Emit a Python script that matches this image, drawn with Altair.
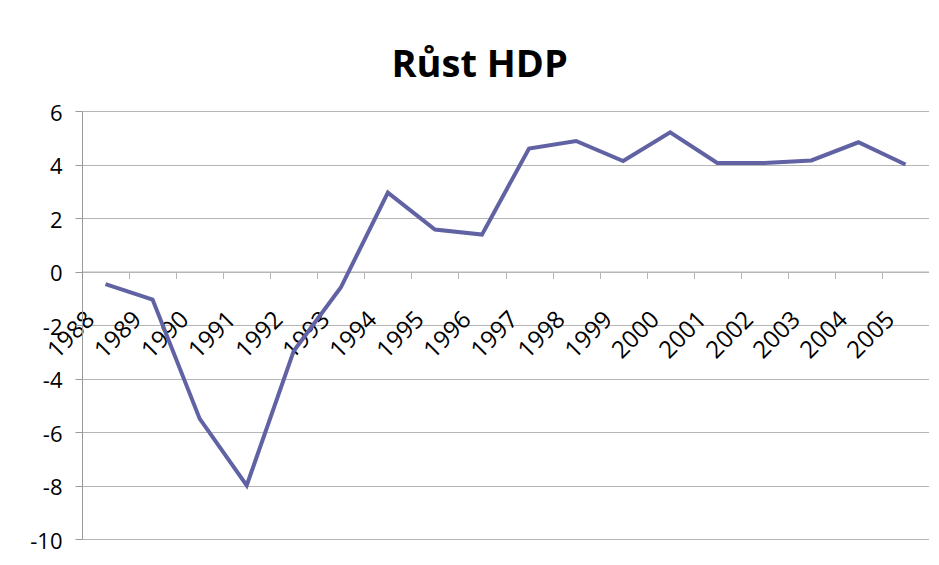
import altair as alt
import pandas as pd

years = ["1988", "1989", "1990", "1991", "1992", "1993", "1994", "1995", "1996",
         "1997", "1998", "1999", "2000", "2001", "2002", "2003", "2004", "2005"]
growth = [-0.47, -1.05, -5.5, -8.0, -2.97, -0.6, 2.95, 1.57, 1.38,
          4.6, 4.88, 4.13, 5.2, 4.06, 4.06, 4.15, 4.83, 4.0]
y_ticks = [-10, -8, -6, -4, -2, 0, 2, 4, 6]

df = pd.DataFrame({"rok": years, "hdp": growth})

W, H = 847, 428
FONT = "Open Sans"

chart = alt.Chart(df).mark_line(color="#6062a3", strokeWidth=4).encode(
    x=alt.X("rok:N", sort=years, title=None,
            scale=alt.Scale(paddingInner=0, paddingOuter=0),
            axis=alt.Axis(offset=-H * 10 / 16, tickBand="extent", grid=False,
                          domainColor="#b5b5b5", tickColor="#b5b5b5", tickSize=7,
                          labelAngle=315, labelAlign="right", labelBaseline="middle",
                          labelPadding=37, labelOffset=-15, labelOverlap=False,
                          labelFont=FONT, labelFontSize=24, labelColor="#000000")),
    y=alt.Y("hdp:Q", title=None,
            scale=alt.Scale(domain=[-10, 6], nice=False, zero=False),
            axis=alt.Axis(values=y_ticks, grid=True, gridColor="#b5b5b5",
                          domainColor="#9a9a9a", tickColor="#9a9a9a", tickSize=7,
                          labelPadding=13, labelOffset=2,
                          labelExpr="'' + datum.value",
                          labelFont=FONT, labelFontSize=22, labelColor="#000000")),
).properties(
    width=W, height=H,
    title=alt.TitleParams("Růst HDP", font=FONT, fontSize=38, fontWeight="bold",
                          color="#000000", anchor="middle", frame="bounds",
                          baseline="alphabetic", offset=-13),
    autosize=alt.AutoSizeParams(type="none"),
    padding={"left": 74, "top": 103, "right": 0, "bottom": 15},
).configure_view(stroke=None).configure(background="#ffffff")

chart.save("out.html", embed_options={"renderer": "svg", "actions": False})
